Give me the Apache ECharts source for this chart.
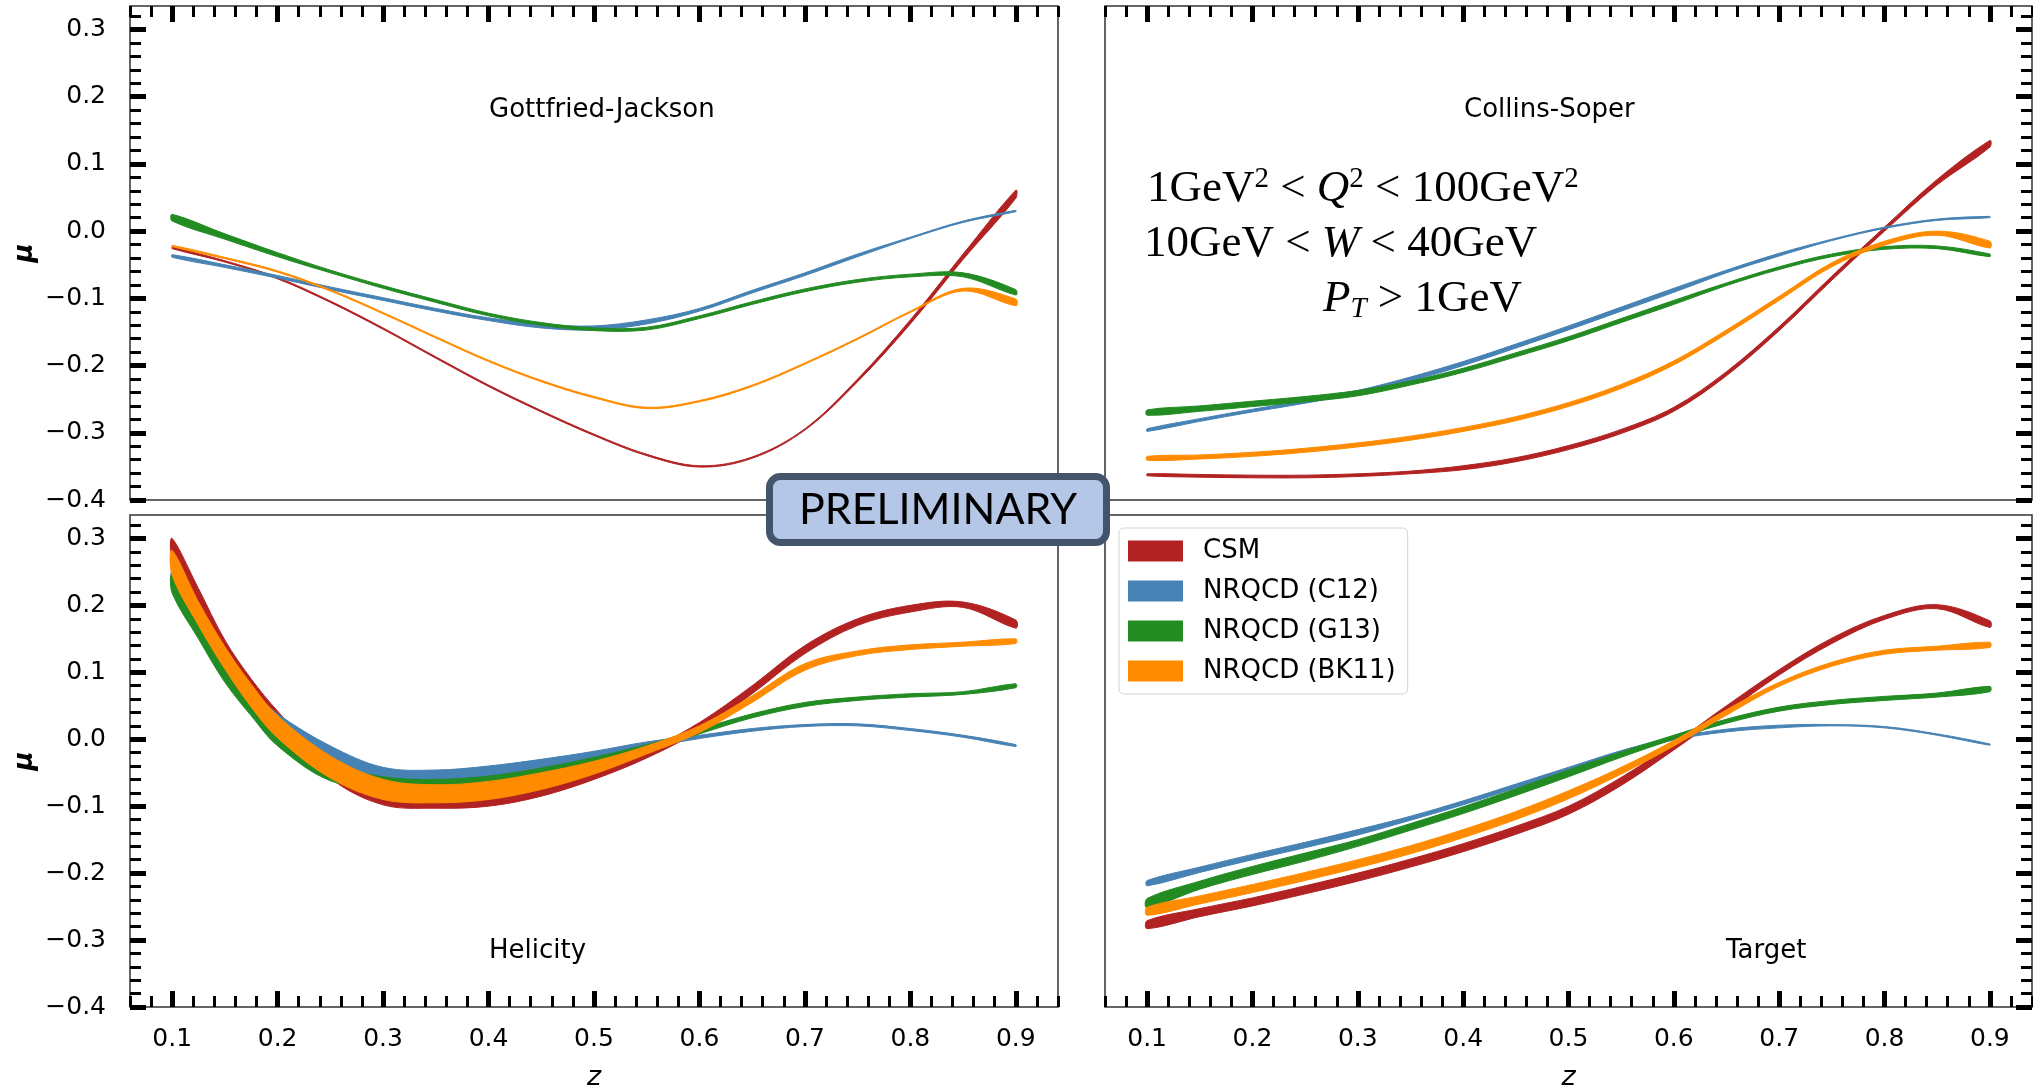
<!DOCTYPE html>
<html>
<head>
<meta charset="utf-8">
<script src="https://cdn.jsdelivr.net/npm/echarts@6/dist/echarts.min.js"></script>
<style>
  html, body { margin: 0; padding: 0; background: #fff; }
  #chart { width: 2033px; height: 1085px; }
</style>
</head>
<body>
<div id="chart"></div>
<script>
// ---- sampling grids in z ----
const zStd = [0.10, 0.15, 0.20, 0.25, 0.30, 0.35, 0.40, 0.45, 0.50, 0.55, 0.60, 0.65, 0.70, 0.75, 0.80, 0.85, 0.90];
const zHel = [0.10, 0.125, 0.15, 0.175, 0.20, 0.25, 0.30, 0.35, 0.40, 0.45, 0.50, 0.55, 0.60, 0.65, 0.70, 0.75, 0.80, 0.85, 0.90];

// ---- tick positions / labels ----
const zTicks = [0.1, 0.2, 0.3, 0.4, 0.5, 0.6, 0.7, 0.8, 0.9];
const zMinorTicks = [0.06, 0.08, 0.12, 0.14, 0.16, 0.18, 0.22, 0.24, 0.26, 0.28, 0.32, 0.34, 0.36, 0.38,
  0.42, 0.44, 0.46, 0.48, 0.52, 0.54, 0.56, 0.58, 0.62, 0.64, 0.66, 0.68, 0.72, 0.74, 0.76, 0.78,
  0.82, 0.84, 0.86, 0.88, 0.92, 0.94];
const muTicks = [-0.4, -0.3, -0.2, -0.1, 0, 0.1, 0.2, 0.3];
const muMinorTicks = [-0.38, -0.36, -0.34, -0.32, -0.28, -0.26, -0.24, -0.22, -0.18, -0.16, -0.14, -0.12,
  -0.08, -0.06, -0.04, -0.02, 0.02, 0.04, 0.06, 0.08, 0.12, 0.14, 0.16, 0.18, 0.22, 0.24, 0.26, 0.28, 0.32];

// ---- models ----
const models = ['CSM', 'NRQCD (C12)', 'NRQCD (G13)', 'NRQCD (BK11)'];
const modelColors = ['#b22222', '#4682b4', '#228b22', '#ff8c00'];
const frameTitles = ['Gottfried-Jackson', 'Collins-Soper', 'Helicity', 'Target'];

// ---- Gottfried-Jackson frame (lower / upper edge of each band) ----
const gjCsmLo  = [-0.026, -0.046, -0.071, -0.106, -0.146, -0.189, -0.231, -0.269, -0.304, -0.334, -0.351, -0.338, -0.296, -0.224, -0.138, -0.042, 0.049];
const gjCsmHi  = [-0.024, -0.044, -0.069, -0.104, -0.144, -0.187, -0.229, -0.267, -0.302, -0.332, -0.349, -0.336, -0.294, -0.220, -0.132, -0.034, 0.061];
const gjC12Lo  = [-0.039, -0.054, -0.070, -0.087, -0.103, -0.119, -0.133, -0.144, -0.147, -0.138, -0.119, -0.092, -0.066, -0.038, -0.011, 0.013, 0.029];
const gjC12Hi  = [-0.035, -0.050, -0.066, -0.083, -0.099, -0.115, -0.129, -0.138, -0.141, -0.132, -0.115, -0.088, -0.062, -0.034, -0.009, 0.015, 0.031];
const gjG13Lo  = [0.015, -0.012, -0.038, -0.062, -0.085, -0.106, -0.126, -0.140, -0.148, -0.147, -0.130, -0.109, -0.090, -0.076, -0.068, -0.068, -0.095];
const gjG13Hi  = [0.025, -0.004, -0.032, -0.058, -0.081, -0.102, -0.122, -0.136, -0.144, -0.143, -0.126, -0.105, -0.086, -0.072, -0.064, -0.062, -0.087];
const gjBk11Lo = [-0.023, -0.041, -0.061, -0.089, -0.123, -0.159, -0.194, -0.224, -0.248, -0.264, -0.254, -0.231, -0.198, -0.161, -0.121, -0.089, -0.111];
const gjBk11Hi = [-0.021, -0.039, -0.059, -0.087, -0.121, -0.157, -0.192, -0.222, -0.246, -0.262, -0.252, -0.229, -0.196, -0.159, -0.119, -0.085, -0.101];

// ---- Collins-Soper frame ----
const csCsmLo  = [-0.364, -0.366, -0.367, -0.367, -0.365, -0.361, -0.355, -0.343, -0.325, -0.301, -0.268, -0.215, -0.148, -0.073, 0.000, 0.069, 0.125];
const csCsmHi  = [-0.361, -0.362, -0.363, -0.363, -0.361, -0.357, -0.349, -0.337, -0.319, -0.295, -0.262, -0.209, -0.142, -0.067, 0.006, 0.077, 0.135];
const csC12Lo  = [-0.298, -0.283, -0.269, -0.256, -0.241, -0.223, -0.200, -0.174, -0.147, -0.119, -0.091, -0.062, -0.037, -0.014, 0.004, 0.016, 0.020];
const csC12Hi  = [-0.294, -0.279, -0.265, -0.252, -0.237, -0.217, -0.194, -0.168, -0.141, -0.113, -0.085, -0.058, -0.033, -0.012, 0.006, 0.018, 0.022];
const csG13Lo  = [-0.274, -0.268, -0.261, -0.254, -0.245, -0.229, -0.210, -0.187, -0.163, -0.136, -0.109, -0.081, -0.057, -0.038, -0.027, -0.026, -0.038];
const csG13Hi  = [-0.266, -0.260, -0.253, -0.246, -0.237, -0.223, -0.204, -0.181, -0.157, -0.130, -0.103, -0.077, -0.053, -0.034, -0.023, -0.022, -0.034];
const csBk11Lo = [-0.341, -0.339, -0.335, -0.329, -0.321, -0.311, -0.298, -0.282, -0.261, -0.234, -0.199, -0.153, -0.103, -0.053, -0.021, -0.006, -0.025];
const csBk11Hi = [-0.335, -0.333, -0.329, -0.323, -0.315, -0.305, -0.292, -0.276, -0.255, -0.228, -0.193, -0.147, -0.097, -0.047, -0.015, 0.000, -0.015];

// ---- Helicity frame (on zHel) ----
const heCsmLo  = [0.270, 0.200, 0.130, 0.075, 0.028, -0.058, -0.098, -0.103, -0.100, -0.085, -0.060, -0.028, 0.013, 0.068, 0.128, 0.170, 0.190, 0.197, 0.166];
const heCsmHi  = [0.300, 0.225, 0.148, 0.090, 0.042, -0.040, -0.083, -0.090, -0.085, -0.070, -0.047, -0.017, 0.025, 0.080, 0.140, 0.180, 0.200, 0.205, 0.178];
const heC12Lo  = [0.228, 0.160, 0.100, 0.055, 0.015, -0.030, -0.060, -0.062, -0.058, -0.048, -0.032, -0.013, 0.001, 0.012, 0.019, 0.020, 0.013, 0.003, -0.011];
const heC12Hi  = [0.250, 0.180, 0.120, 0.075, 0.038, -0.010, -0.042, -0.046, -0.040, -0.030, -0.018, -0.004, 0.006, 0.016, 0.022, 0.023, 0.016, 0.006, -0.008];
const heG13Lo  = [0.218, 0.150, 0.085, 0.035, -0.010, -0.062, -0.072, -0.075, -0.070, -0.058, -0.040, -0.017, 0.008, 0.032, 0.049, 0.058, 0.063, 0.067, 0.077];
const heG13Hi  = [0.245, 0.175, 0.112, 0.060, 0.015, -0.035, -0.056, -0.060, -0.055, -0.043, -0.027, -0.008, 0.015, 0.038, 0.055, 0.063, 0.068, 0.071, 0.083];
const heBk11Lo = [0.245, 0.170, 0.105, 0.048, 0.002, -0.058, -0.090, -0.095, -0.090, -0.075, -0.052, -0.022, 0.010, 0.055, 0.103, 0.125, 0.134, 0.139, 0.143];
const heBk11Hi = [0.282, 0.205, 0.138, 0.082, 0.035, -0.025, -0.060, -0.068, -0.063, -0.050, -0.033, -0.010, 0.020, 0.065, 0.113, 0.132, 0.141, 0.145, 0.150];

// ---- Target frame ----
const tgCsmLo  = [-0.283, -0.265, -0.249, -0.231, -0.212, -0.191, -0.168, -0.142, -0.112, -0.069, -0.016, 0.040, 0.096, 0.143, 0.179, 0.195, 0.167];
const tgCsmHi  = [-0.271, -0.253, -0.237, -0.219, -0.200, -0.179, -0.156, -0.130, -0.100, -0.057, -0.006, 0.050, 0.104, 0.151, 0.185, 0.201, 0.177];
const tgC12Lo  = [-0.219, -0.199, -0.180, -0.162, -0.143, -0.121, -0.098, -0.073, -0.048, -0.023, -0.001, 0.011, 0.017, 0.020, 0.017, 0.006, -0.009];
const tgC12Hi  = [-0.211, -0.191, -0.172, -0.154, -0.135, -0.115, -0.092, -0.067, -0.042, -0.017, 0.003, 0.015, 0.021, 0.022, 0.019, 0.008, -0.007];
const tgG13Lo  = [-0.252, -0.224, -0.202, -0.182, -0.160, -0.136, -0.111, -0.084, -0.056, -0.027, 0.000, 0.024, 0.042, 0.052, 0.058, 0.063, 0.071];
const tgG13Hi  = [-0.238, -0.212, -0.190, -0.170, -0.150, -0.126, -0.101, -0.074, -0.046, -0.019, 0.006, 0.030, 0.048, 0.058, 0.064, 0.069, 0.079];
const tgBk11Lo = [-0.263, -0.246, -0.229, -0.211, -0.192, -0.171, -0.147, -0.120, -0.089, -0.052, -0.010, 0.036, 0.079, 0.109, 0.127, 0.133, 0.137];
const tgBk11Hi = [-0.251, -0.234, -0.217, -0.199, -0.180, -0.159, -0.135, -0.108, -0.077, -0.042, -0.002, 0.044, 0.085, 0.115, 0.133, 0.139, 0.145];

// frame index: 0 = top-left, 1 = top-right, 2 = bottom-left, 3 = bottom-right
const frameBands = [
  { z: zStd, lo: [gjCsmLo, gjC12Lo, gjG13Lo, gjBk11Lo], hi: [gjCsmHi, gjC12Hi, gjG13Hi, gjBk11Hi] },
  { z: zStd, lo: [csCsmLo, csC12Lo, csG13Lo, csBk11Lo], hi: [csCsmHi, csC12Hi, csG13Hi, csBk11Hi] },
  { z: zHel, lo: [heCsmLo, heC12Lo, heG13Lo, heBk11Lo], hi: [heCsmHi, heC12Hi, heG13Hi, heBk11Hi] },
  { z: zStd, lo: [tgCsmLo, tgC12Lo, tgG13Lo, tgBk11Lo], hi: [tgCsmHi, tgC12Hi, tgG13Hi, tgBk11Hi] }
];

const FONT = 'DejaVu Sans';
const INK = '#000';

const grids = [
  { left: 130,  top: 6,   width: 928, height: 494 },
  { left: 1105, top: 6,   width: 927, height: 494 },
  { left: 130,  top: 515, width: 928, height: 492 },
  { left: 1105, top: 515, width: 927, height: 492 }
].map(g => Object.assign({
  show: true, borderColor: '#333', borderWidth: 1.5, backgroundColor: 'transparent',
  containLabel: false, outerBoundsMode: 'none'
}, g));

const muFmt = v => (v < 0 ? '\u2212' : '') + Math.abs(v).toFixed(1);

const xAxis = [];
const yAxis = [];
for (let p = 0; p < 4; p++) {
  const isTop = p < 2;
  const isLeft = p % 2 === 0;
  const xBase = {
    gridIndex: p, type: 'value', min: 0.06, max: 0.94,
    position: isTop ? 'top' : 'bottom',
    axisLine: { show: false, onZero: false }, splitLine: { show: false }
  };
  xAxis.push(Object.assign({}, xBase, {
    axisTick: { show: true, inside: true, length: 16, customValues: zTicks, lineStyle: { color: INK, width: 5 } },
    axisLabel: isTop ? { show: false } : {
      show: true, customValues: zTicks, margin: 20, fontSize: 25, fontFamily: FONT, color: INK,
      formatter: v => v.toFixed(1)
    },
    name: isTop ? '' : 'z', nameLocation: 'middle', nameGap: 57,
    nameTextStyle: { fontStyle: 'italic', fontSize: 27, fontFamily: FONT, color: INK }
  }));
  xAxis.push(Object.assign({}, xBase, {
    axisTick: { show: true, inside: true, length: 11, customValues: zMinorTicks, lineStyle: { color: INK, width: 3 } },
    axisLabel: { show: false }
  }));

  const yBase = {
    gridIndex: p, type: 'value', min: -0.4, max: 0.335,
    position: isLeft ? 'left' : 'right',
    axisLine: { show: false, onZero: false }, splitLine: { show: false }
  };
  yAxis.push(Object.assign({}, yBase, {
    axisTick: { show: true, inside: true, length: 16, customValues: muTicks, lineStyle: { color: INK, width: 5 } },
    axisLabel: isLeft ? {
      show: true, customValues: muTicks, margin: 24, fontSize: 25, fontFamily: FONT, color: INK,
      formatter: muFmt
    } : { show: false },
    name: isLeft ? '\u03bc' : '', nameLocation: 'middle', nameGap: 92, nameRotate: 90,
    nameTextStyle: { fontStyle: 'italic', fontWeight: 'bold', fontSize: 26, fontFamily: FONT, color: INK }
  }));
  yAxis.push(Object.assign({}, yBase, {
    axisTick: { show: true, inside: true, length: 11, customValues: muMinorTicks, lineStyle: { color: INK, width: 3 } },
    axisLabel: { show: false }
  }));
}

// one filled band (lower edge .. upper edge) per model and frame
function bandSeries(p, m) {
  const fb = frameBands[p];
  const z = fb.z, lo = fb.lo[m], hi = fb.hi[m];
  const color = modelColors[m];
  return {
    type: 'custom', name: models[m], xAxisIndex: 2 * p, yAxisIndex: 2 * p,
    silent: true, clip: true,
    itemStyle: { color: color },
    data: z.map((x, i) => [x, lo[i], hi[i]]),
    encode: { x: 0, y: [1, 2] },
    renderItem: function (params, api) {
      if (params.dataIndex !== 0) return null;
      const upper = z.map((x, i) => api.coord([x, hi[i]]));
      const lower = z.map((x, i) => api.coord([x, lo[i]])).reverse();
      return {
        type: 'polygon',
        shape: { points: upper.concat(lower), smooth: 0.35 },
        style: { fill: color, stroke: color, lineWidth: 1 }
      };
    }
  };
}

const series = [];
for (let p = 0; p < 4; p++) {
  for (let m = 0; m < 4; m++) series.push(bandSeries(p, m));
}

const titleStyle = { fontSize: 26, fontFamily: FONT, fill: INK, align: 'left', verticalAlign: 'middle' };
const serif = 'Liberation Serif';
const mathRich = {
  m:   { fontFamily: serif, fontSize: 45, lineHeight: 49, fill: INK },
  i:   { fontFamily: serif, fontSize: 45, lineHeight: 49, fontStyle: 'italic', fill: INK },
  sup: { fontFamily: serif, fontSize: 29, lineHeight: 29, verticalAlign: 'top', fill: INK },
  sub: { fontFamily: serif, fontSize: 29, lineHeight: 29, verticalAlign: 'bottom', fontStyle: 'italic', fill: INK }
};

const graphic = [
  { type: 'text', x: 489,  y: 110, style: Object.assign({ text: frameTitles[0] }, titleStyle) },
  { type: 'text', x: 1464, y: 110, style: Object.assign({ text: frameTitles[1] }, titleStyle) },
  { type: 'text', x: 489,  y: 951, style: Object.assign({ text: frameTitles[2] }, titleStyle) },
  { type: 'text', x: 1726, y: 951, style: Object.assign({ text: frameTitles[3] }, titleStyle) },
  { type: 'text', x: 1147, y: 189, style: { text: '{m|1GeV}{sup|2}{m| < }{i|Q}{sup|2}{m| < 100GeV}{sup|2}', rich: mathRich, align: 'left', verticalAlign: 'middle' } },
  { type: 'text', x: 1144, y: 244, style: { text: '{m|10GeV < }{i|W}{m| < 40GeV}', rich: mathRich, align: 'left', verticalAlign: 'middle' } },
  { type: 'text', x: 1323, y: 299, style: { text: '{i|P}{sub|T}{m| > 1GeV}', rich: mathRich, align: 'left', verticalAlign: 'middle' } },
  {
    type: 'group', z: 100,
    children: [
      { type: 'rect', shape: { x: 769.5, y: 476.5, width: 337, height: 66, r: 11 },
        style: { fill: '#b4c7e7', stroke: '#44546a', lineWidth: 7 } },
      { type: 'text', x: 938, y: 510, style: { text: 'PRELIMINARY', fontFamily: 'Lato', fontSize: 43, fill: INK, align: 'center', verticalAlign: 'middle' } }
    ]
  }
];

const chart = echarts.init(document.getElementById('chart'), null, { renderer: 'canvas' });
chart.setOption({
  animation: false,
  backgroundColor: '#fff',
  textStyle: { fontFamily: FONT },
  grid: grids,
  xAxis: xAxis,
  yAxis: yAxis,
  legend: {
    data: models, orient: 'vertical', left: 1119, top: 528,
    icon: 'rect', itemWidth: 55, itemHeight: 21, itemGap: 14,
    padding: [10, 12, 10, 9],
    backgroundColor: 'rgba(255,255,255,0.85)', borderColor: '#d3d3d3', borderWidth: 1, borderRadius: 5,
    selectedMode: false,
    textStyle: { fontSize: 26, fontFamily: FONT, color: INK, lineHeight: 26, padding: [0, 0, 0, 15] }
  },
  graphic: graphic,
  series: series
});
</script>
</body>
</html>
